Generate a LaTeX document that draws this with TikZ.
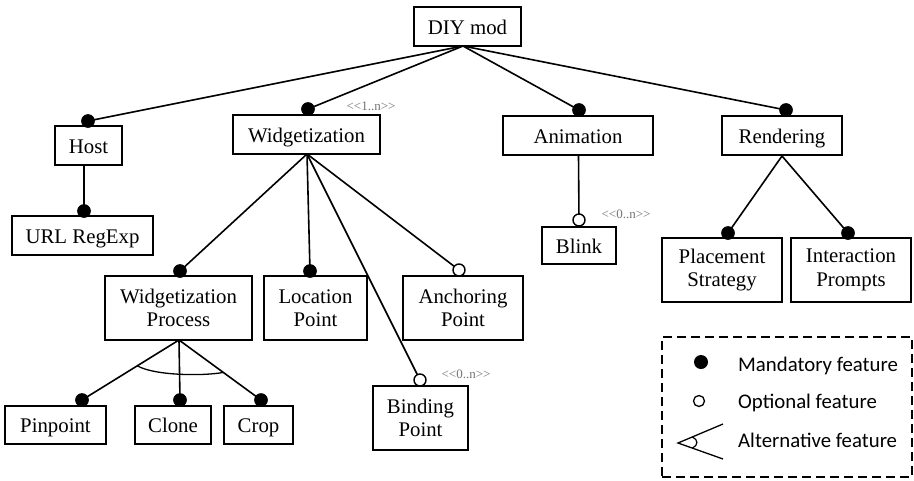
\documentclass[tikz,border=0pt]{standalone}
\usepackage{fontspec}
\setmainfont{Liberation Serif}
\newfontfamily\legfont{Carlito}
\usetikzlibrary{calc}
\begin{document}
\begin{tikzpicture}[x=1pt,y=-1pt,
  box/.style={draw,line width=1.6pt,inner sep=0pt,align=center,font=\fontsize{20.8}{23.5}\selectfont},
  sbox/.style={box,text height=15pt,text depth=0pt},
  conn/.style={line width=1.6pt},
  mand/.style={circle,fill=black,draw=black,line width=0.6pt,minimum size=13pt,inner sep=0pt},
  opt/.style={circle,fill=white,draw=black,line width=1.4pt,minimum size=12pt,inner sep=0pt},
  card/.style={text=black!55,font=\fontsize{13}{13}\selectfont,inner sep=0pt},
  legtext/.style={anchor=base west,inner sep=0pt,font=\legfont\fontsize{20.8}{24}\selectfont}]
\useasboundingbox (0,0) rectangle (914,480);
% boxes
\node[sbox,minimum width=107,minimum height=39] (diy) at (467.5,26.5) {DIY mod};
\node[sbox,minimum width=67,minimum height=39] (host) at (88.5,145.5) {Host};
\node[sbox,minimum width=147,minimum height=39] (widg) at (306.5,134.5) {Widgetization};
\node[sbox,minimum width=150,minimum height=39] (anim) at (578,135.5) {Animation};
\node[sbox,minimum width=120,minimum height=39] (rend) at (782,135.5) {Rendering};
\node[sbox,minimum width=141,minimum height=39] (url) at (82.5,235.5) {URL RegExp};
\node[sbox,minimum width=74,minimum height=37] (blink) at (579,245.5) {Blink};
\node[box,minimum width=120,minimum height=64] (place) at (722,270) {Placement\\Strategy};
\node[box,minimum width=120,minimum height=64] (inter) at (851,270) {Interaction\\Prompts};
\node[box,minimum width=147,minimum height=64] (wp) at (178.5,308) {Widgetization\\Process};
\node[box,minimum width=103,minimum height=64] (loc) at (315.5,308) {Location\\Point};
\node[box,minimum width=120,minimum height=64] (anch) at (463,308) {Anchoring\\Point};
\node[box,minimum width=95,minimum height=64] (bind) at (420.5,418) {Binding\\Point};
\node[sbox,minimum width=101,minimum height=38] (pin) at (55.5,425) {Pinpoint};
\node[sbox,minimum width=76,minimum height=38] (clone) at (173,425) {Clone};
\node[sbox,minimum width=69,minimum height=38] (crop) at (258.5,425) {Crop};
% connector end points
\coordinate (diyb) at (463,46);
\coordinate (hostb) at (84,165);
\coordinate (widgb) at (307,154);
\coordinate (animb) at (578.5,155);
\coordinate (rendb) at (782,156);
\coordinate (wpb) at (179,340);
\coordinate (dHost) at (88,121);
\coordinate (dWidg) at (308,109);
\coordinate (dAnim) at (579,110);
\coordinate (dRend) at (786,110);
\coordinate (dUrl) at (84,211);
\coordinate (dBlink) at (579,220);
\coordinate (dWp) at (180,271);
\coordinate (dLoc) at (310,271);
\coordinate (dAnch) at (459,270);
\coordinate (dBind) at (420,380);
\coordinate (dPlace) at (728,233);
\coordinate (dInter) at (848,233);
\coordinate (dPin) at (82,400);
\coordinate (dClone) at (180,400);
\coordinate (dCrop) at (261,400);
% connectors
\draw[conn] (diyb) -- (dHost);
\draw[conn] (diyb) -- (dWidg);
\draw[conn] (diyb) -- (dAnim);
\draw[conn] (diyb) -- (dRend);
\draw[conn] (hostb) -- (dUrl);
\draw[conn] (widgb) -- (dWp);
\draw[conn] (widgb) -- (dLoc);
\draw[conn] (widgb) -- (dBind);
\draw[conn] (widgb) -- (dAnch);
\draw[conn] (animb) -- (dBlink);
\draw[conn] (rendb) -- (dPlace);
\draw[conn] (rendb) -- (dInter);
\draw[conn] (wpb) -- (dPin);
\draw[conn] (wpb) -- (dClone);
\draw[conn] (wpb) -- (dCrop);
% alternative arc
\coordinate (altL) at ($(wpb)!0.43!(dPin)$);
\coordinate (altR) at ($(wpb)!0.54!(dCrop)$);
\draw[line width=1.3pt] (altL) .. controls (155,376) and (205,376) .. (altR);
% dots
\foreach \d in {dHost,dWidg,dAnim,dRend,dUrl,dWp,dLoc,dPlace,dInter,dPin,dClone,dCrop}
  \node[mand] at (\d) {};
\foreach \d in {dBlink,dAnch,dBind}
  \node[opt] at (\d) {};
% cardinalities
\node[card] (c1) at (371,106) {<\kern0pt<1..n>\kern0pt>};
\node[card] (c2) at (626,214) {<\kern0pt<0..n>\kern0pt>};
\node[card] (c3) at (466,374) {<\kern0pt<0..n>\kern0pt>};
% legend
\node[draw,line width=2pt,dash pattern=on 9pt off 5pt,minimum width=250,minimum height=140,inner sep=0pt] (leg) at (787,407) {};
\node[circle,fill=black,minimum size=14pt,inner sep=0pt] (lm) at (701,362) {};
\node[circle,draw=black,fill=white,line width=1.3pt,minimum size=11pt,inner sep=0pt] (lo) at (699,401) {};
\coordinate (la) at (678,443);
\coordinate (lu) at (723,424);
\coordinate (ld) at (723,459);
\draw[line width=1.3pt] (lu) -- (la) -- (ld);
\coordinate (laU) at ($(la)!0.32!(lu)$);
\coordinate (laD) at ($(la)!0.32!(ld)$);
\draw[line width=1.2pt] (laU) .. controls ($(laU)+(6,3)$) and ($(laD)+(6,-3)$) .. (laD);
\node[legtext] (t1) at (738,371) {Mandatory feature};
\node[legtext] (t2) at (738,408) {Optional feature};
\node[legtext] (t3) at (738,447) {Alternative feature};
\end{tikzpicture}
\end{document}
